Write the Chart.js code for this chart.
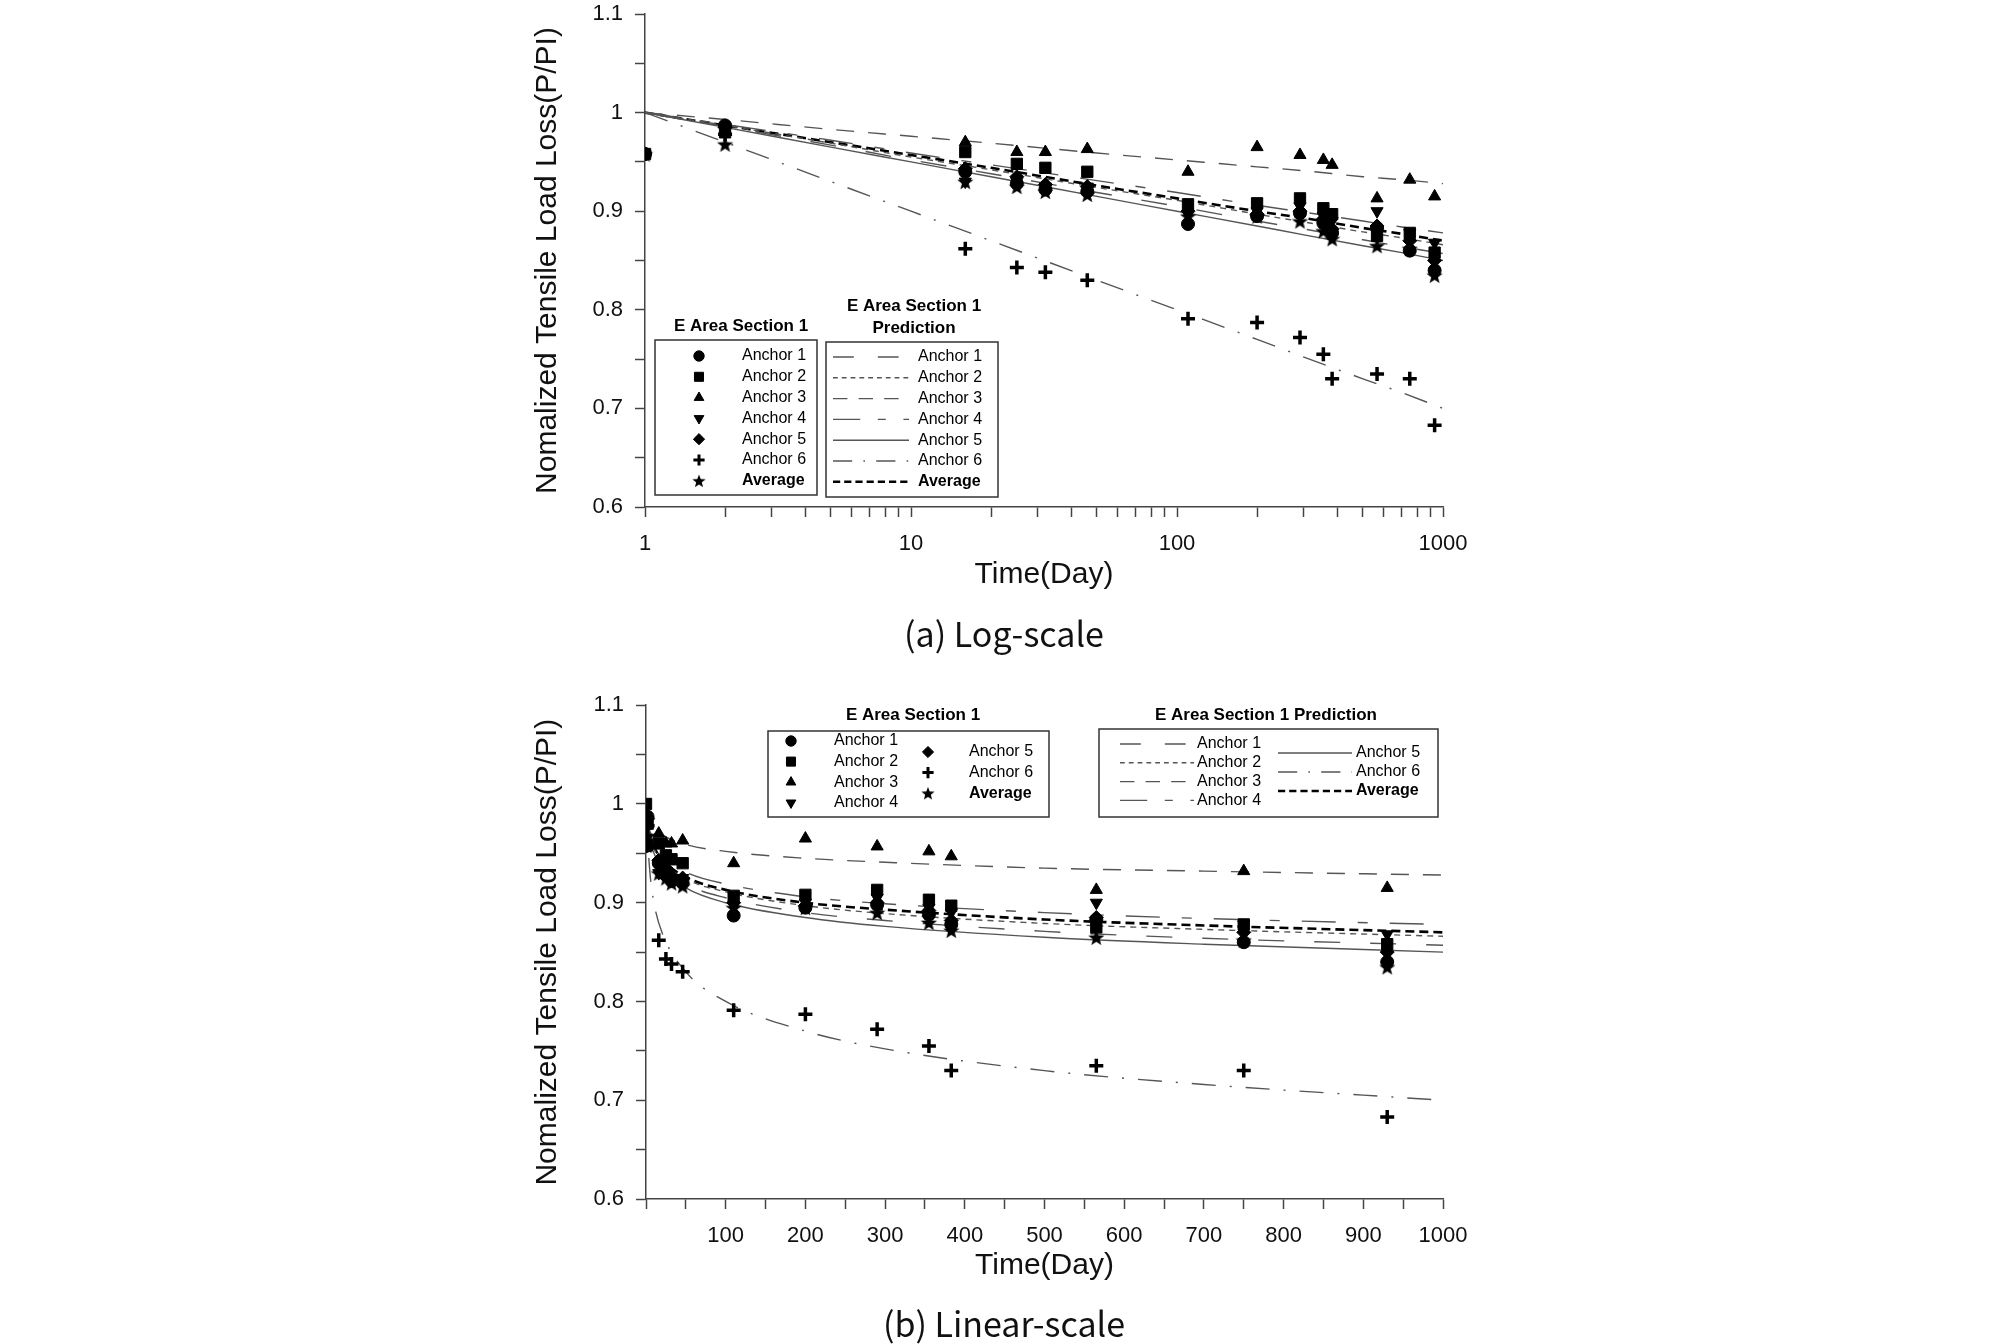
<!DOCTYPE html>
<html>
<head>
<meta charset="utf-8">
<title>Tensile load loss</title>
<script src="https://cdn.jsdelivr.net/npm/chart.js@4.4.1/dist/chart.umd.min.js"></script>
<style>
  html, body { margin: 0; padding: 0; background: #fff; }
  body { width: 2008px; height: 1344px; position: relative; overflow: hidden; }
  .wrap { position: absolute; left: 0; width: 2008px; }
  #topWrap { top: 0; height: 610px; }
  #botWrap { top: 680px; height: 620px; }
  .cap { position: absolute; left: 0; width: 2008px; text-align: center; line-height: 40px;
         font-family: 'Noto Sans CJK KR', 'Noto Sans', sans-serif; font-size: 34px; color: #111; }
</style>
</head>
<body>
<div class="wrap" id="topWrap"><canvas id="logChart" width="2008" height="610"></canvas></div>
<div class="wrap" id="botWrap"><canvas id="linChart" width="2008" height="620"></canvas></div>
<div class="cap" style="top:613px">(a) Log-scale</div>
<div class="cap" style="top:1303px">(b) Linear-scale</div>
<script>
// measured days and normalized load P/PI
const days    = [0,     1,     2,     16,    25,    32,    46,    110,   200,   290,   355,   383,   565,   750,   930];
const anchor1 = [null,  0.958, 0.987, 0.940, 0.928, 0.922, 0.920, 0.887, 0.895, 0.898, 0.888, 0.878, 0.883, 0.860, 0.840];
const anchor2 = [1.000, 0.958, 0.980, 0.960, 0.948, 0.944, 0.940, 0.907, 0.908, 0.913, 0.903, 0.897, 0.875, 0.878, 0.858];
const anchor3 = [null,  0.958, 0.982, 0.970, 0.960, 0.960, 0.963, 0.940, 0.965, 0.957, 0.952, 0.947, 0.913, 0.932, 0.915];
const anchor4 = [null,  0.958, 0.982, 0.930, 0.930, 0.925, 0.925, 0.897, 0.900, 0.905, 0.895, 0.890, 0.900, 0.878, 0.868];
const anchor5 = [null,  0.958, 0.985, 0.943, 0.935, 0.927, 0.925, 0.900, 0.897, 0.900, 0.892, 0.882, 0.885, 0.870, 0.850];
const anchor6 = [null,  0.958, 0.978, 0.862, 0.843, 0.838, 0.830, 0.791, 0.787, 0.772, 0.755, 0.730, 0.735, 0.730, 0.683];
const average = [null,  0.958, 0.968, 0.930, 0.925, 0.920, 0.917, 0.895, 0.895, 0.890, 0.880, 0.872, 0.865, 0.862, 0.835];

// prediction curves
const predDays = [1, 2,     5,     10,    20,    50,    100,   200,   300,   500,   700,   1000];
const pred1    = [1, 0.986, 0.967, 0.952, 0.938, 0.919, 0.905, 0.890, 0.882, 0.871, 0.864, 0.857];
const pred2    = [1, 0.987, 0.969, 0.955, 0.942, 0.924, 0.911, 0.897, 0.889, 0.879, 0.873, 0.866];
const pred3    = [1, 0.993, 0.983, 0.976, 0.969, 0.959, 0.952, 0.945, 0.941, 0.935, 0.932, 0.928];
const pred4    = [1, 0.988, 0.972, 0.959, 0.947, 0.931, 0.919, 0.906, 0.899, 0.890, 0.884, 0.878];
const pred5    = [1, 0.985, 0.965, 0.950, 0.935, 0.915, 0.900, 0.885, 0.876, 0.865, 0.858, 0.850];
const pred6    = [1, 0.970, 0.930, 0.900, 0.870, 0.830, 0.800, 0.770, 0.752, 0.730, 0.716, 0.700];
const predAvg  = [1, 0.987, 0.970, 0.957, 0.944, 0.926, 0.913, 0.900, 0.893, 0.883, 0.877, 0.870];

const seriesLabels = ['Anchor 1', 'Anchor 2', 'Anchor 3', 'Anchor 4', 'Anchor 5', 'Anchor 6', 'Average'];
const yTickLabels = [0.6, 0.7, 0.8, 0.9, 1, 1.1];
const logTickLabels = [1, 10, 100, 1000];
const linTickLabels = [100, 200, 300, 400, 500, 600, 700, 800, 900, 1000];

const FONT = "'Liberation Sans', Arial, sans-serif";
Chart.defaults.font.family = FONT;
Chart.defaults.color = '#111';

function makeStar(size) {
  const c = document.createElement('canvas');
  c.width = size; c.height = size;
  const g = c.getContext('2d');
  const cx = size / 2, cy = size / 2 + size * 0.05, R = size / 2, r = R * 0.42;
  g.beginPath();
  for (let i = 0; i < 10; i++) {
    const a = -Math.PI / 2 + i * Math.PI / 5;
    const rr = i % 2 ? r : R;
    g.lineTo(cx + rr * Math.cos(a), cy + rr * Math.sin(a));
  }
  g.closePath();
  g.fillStyle = '#000';
  g.fill();
  return c;
}
const starBig = makeStar(17);
const starSmall = makeStar(14);

const markerStyles = [
  { style: 'circle', r: 6.5, rot: 0, bw: 1 },
  { style: 'rect', r: 8, rot: 0, bw: 1 },
  { style: 'triangle', r: 7, rot: 0, bw: 1 },
  { style: 'triangle', r: 7, rot: 180, bw: 1 },
  { style: 'rectRot', r: 7, rot: 0, bw: 1 },
  { style: 'cross', r: 7, rot: 0, bw: 3.5 },
  { style: starBig, r: 7, rot: 0, bw: 0 }
];
const lineStyles = [
  { dash: [26, 30], color: '#555', width: 1.4 },
  { dash: [6, 5], color: '#555', width: 1.4 },
  { dash: [18, 14], color: '#555', width: 1.4 },
  { dash: [34, 22, 10, 22], color: '#555', width: 1.4 },
  { dash: [], color: '#555', width: 1.4 },
  { dash: [24, 14, 2, 14], color: '#555', width: 1.4 },
  { dash: [9, 5], color: '#000', width: 2.6 }
];

const measured = [anchor1, anchor2, anchor3, anchor4, anchor5, anchor6, average];
const predicted = [pred1, pred2, pred3, pred4, pred5, pred6, predAvg];

function buildDatasets(isLog) {
  const sets = [];
  measured.forEach((vals, i) => {
    const m = markerStyles[i];
    const pts = [];
    days.forEach((d, k) => {
      if (vals[k] == null) return;
      if (isLog && d <= 0) return;
      pts.push({ x: d, y: vals[k] });
    });
    sets.push({
      label: seriesLabels[i], data: pts, showLine: false,
      pointStyle: m.style, pointRadius: m.r, pointRotation: m.rot,
      pointBackgroundColor: '#000', pointBorderColor: '#000', pointBorderWidth: m.bw
    });
  });
  predicted.forEach((vals, i) => {
    const l = lineStyles[i];
    sets.push({
      label: seriesLabels[i], data: predDays.map((d, k) => ({ x: d, y: vals[k] })),
      showLine: true, pointRadius: 0, borderColor: l.color, borderWidth: l.width,
      borderDash: l.dash, cubicInterpolationMode: 'monotone', fill: false
    });
  });
  return sets;
}

// boxed legends like the original figure
const boxLegends = {
  id: 'boxLegends',
  afterDatasetsDraw(chart, args, opts) {
    const ctx = chart.ctx;
    (opts.boxes || []).forEach(b => {
      ctx.save();
      ctx.fillStyle = '#fff';
      ctx.fillRect(b.x, b.y, b.w, b.h);
      ctx.strokeStyle = '#333';
      ctx.lineWidth = 1.5;
      ctx.setLineDash([]);
      ctx.strokeRect(b.x, b.y, b.w, b.h);
      ctx.fillStyle = '#000';
      ctx.textAlign = 'center';
      ctx.textBaseline = 'middle';
      ctx.font = 'bold 17px ' + FONT;
      b.title.forEach((t, i) => ctx.fillText(t, b.tx, b.ty + i * 22));
      b.cols.forEach(col => {
        col.sets.forEach((si, k) => {
          const y = col.y0 + k * col.dy;
          ctx.save();
          if (b.kind === 'marker') {
            const m = markerStyles[si];
            const st = m.style === starBig ? starSmall : m.style;
            ctx.fillStyle = '#000';
            ctx.strokeStyle = '#000';
            ctx.lineWidth = st === 'cross' ? 3 : 1;
            Chart.helpers.drawPoint(ctx, { pointStyle: st, radius: m.r * 0.8, rotation: m.rot, borderWidth: ctx.lineWidth }, col.mx, y);
          } else {
            const l = lineStyles[si];
            ctx.strokeStyle = l.color;
            ctx.lineWidth = l.width;
            ctx.setLineDash(l.dash.length ? l.dash.map(v => v * 0.8) : []);
            ctx.beginPath();
            ctx.moveTo(col.mx, y);
            ctx.lineTo(col.mx + b.len, y);
            ctx.stroke();
          }
          ctx.restore();
          ctx.fillStyle = '#000';
          ctx.textAlign = 'left';
          ctx.textBaseline = 'middle';
          ctx.font = (si === 6 ? 'bold ' : '') + '16px ' + FONT;
          ctx.fillText(seriesLabels[si], col.lx, y);
        });
      });
      ctx.restore();
    });
  }
};

const yTickPos = [];
for (let v = 0.6; v <= 1.1001; v += 0.05) yTickPos.push(Math.round(v * 100) / 100);
const logTickPos = [];
[1, 10, 100].forEach(dec => { for (let s = 1; s < 10; s++) logTickPos.push(dec * s); });
logTickPos.push(1000);
const linTickPos = [];
for (let v = 0; v <= 1000; v += 50) linTickPos.push(v);

function yScale(width, padTop) {
  return {
    type: 'linear', min: 0.6, max: 1.1,
    afterBuildTicks: s => { s.ticks = yTickPos.map(v => ({ value: v })); },
    afterFit: s => {
      s.width = width;
      if (padTop !== undefined) s.paddingTop = padTop;
    },
    ticks: {
      autoSkip: false, padding: 12, font: { size: 22 }, color: '#111',
      callback: v => {
        const hit = yTickLabels.find(t => Math.abs(t - v) < 1e-6);
        return hit === undefined ? '' : String(hit);
      }
    },
    grid: { drawOnChartArea: false, tickLength: 10, tickColor: '#444', tickWidth: 1.5 },
    border: { color: '#444', width: 1.5 },
    title: { display: true, text: 'Nomalized Tensile Load Loss(P/PI)', font: { size: 30 }, color: '#111', padding: { top: 0, bottom: 0 } }
  };
}

function xTitle() {
  return { display: true, text: 'Time(Day)', font: { size: 30 }, color: '#111', padding: { top: 0, bottom: 2 } };
}

new Chart(document.getElementById('logChart'), {
  type: 'scatter',
  data: { datasets: buildDatasets(true) },
  options: {
    responsive: false, animation: false,
    layout: { padding: { left: 530, right: 565, top: 14, bottom: 15 } },
    plugins: {
      legend: { display: false }, tooltip: { enabled: false },
      boxLegends: {
        boxes: [
          { kind: 'marker', x: 655, y: 340, w: 162, h: 155, title: ['E Area Section 1'], tx: 741, ty: 326,
            cols: [{ mx: 699, lx: 742, y0: 356, dy: 20.8, sets: [0, 1, 2, 3, 4, 5, 6] }] },
          { kind: 'line', x: 826, y: 342, w: 172, h: 155, len: 76, title: ['E Area Section 1', 'Prediction'], tx: 914, ty: 306,
            cols: [{ mx: 833, lx: 918, y0: 357, dy: 20.8, sets: [0, 1, 2, 3, 4, 5, 6] }] }
        ]
      }
    },
    scales: {
      x: {
        type: 'logarithmic', min: 1, max: 1000,
        afterBuildTicks: s => { s.ticks = logTickPos.map(v => ({ value: v })); },
        afterFit: s => { s.height = 88; },
        ticks: {
          autoSkip: false, maxRotation: 0, padding: 14, font: { size: 22 }, color: '#111',
          callback: v => logTickLabels.includes(v) ? String(v) : ''
        },
        grid: { drawOnChartArea: false, tickLength: 10, tickColor: '#444', tickWidth: 1.5 },
        border: { color: '#444', width: 1.5 },
        title: xTitle()
      },
      y: yScale(115, 0)
    }
  },
  plugins: [boxLegends]
});

new Chart(document.getElementById('linChart'), {
  type: 'scatter',
  data: { datasets: buildDatasets(false) },
  options: {
    responsive: false, animation: false,
    layout: { padding: { left: 530, right: 565, top: 24, bottom: 14 } },
    plugins: {
      legend: { display: false }, tooltip: { enabled: false },
      boxLegends: {
        boxes: [
          { kind: 'marker', x: 768, y: 51, w: 281, h: 86, title: ['E Area Section 1'], tx: 913, ty: 35,
            cols: [
              { mx: 791, lx: 834, y0: 61, dy: 20.6, sets: [0, 1, 2, 3] },
              { mx: 928, lx: 969, y0: 72, dy: 20.6, sets: [4, 5, 6] }
            ] },
          { kind: 'line', x: 1099, y: 49, w: 339, h: 88, len: 74, title: ['E Area Section 1 Prediction'], tx: 1266, ty: 35,
            cols: [
              { mx: 1120, lx: 1197, y0: 64, dy: 18.8, sets: [0, 1, 2, 3] },
              { mx: 1278, lx: 1356, y0: 73, dy: 19, sets: [4, 5, 6] }
            ] }
        ]
      }
    },
    scales: {
      x: {
        type: 'linear', min: 0, max: 1000,
        afterBuildTicks: s => { s.ticks = linTickPos.map(v => ({ value: v })); },
        afterFit: s => { s.height = 87; },
        ticks: {
          autoSkip: false, maxRotation: 0, padding: 14, font: { size: 22 }, color: '#111',
          callback: v => linTickLabels.includes(v) ? String(v) : ''
        },
        grid: { drawOnChartArea: false, tickLength: 10, tickColor: '#444', tickWidth: 1.5 },
        border: { color: '#444', width: 1.5 },
        title: xTitle()
      },
      y: yScale(116)
    }
  },
  plugins: [boxLegends]
});
</script>
</body>
</html>
